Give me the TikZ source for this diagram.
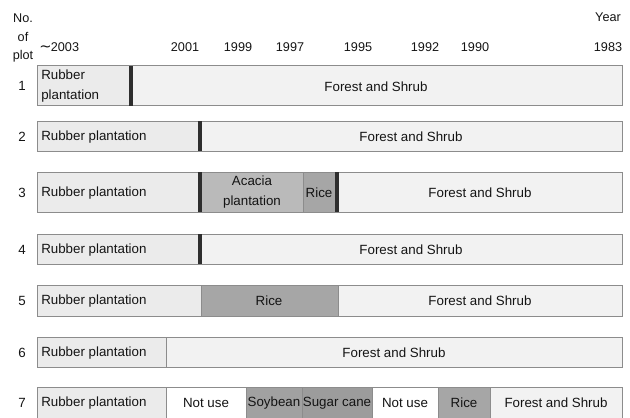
\documentclass[tikz,border=0pt]{standalone}
\usepackage{fontspec}
\setmainfont{Liberation Sans}
\newfontfamily\symfont{DejaVu Sans}
\usetikzlibrary{positioning}

\tikzset{
  bar/.style={draw=black!45, line width=0.75pt},
  rubber/.style={bar, fill=black!8},
  forest/.style={bar, fill=black!5},
  acacia/.style={bar, fill=black!27},
  crop/.style={bar, fill=black!35},
  idle/.style={bar, fill=white},
  sepbar/.style={fill=black!82},
  lbl/.style={inner sep=0pt, text=black!92, font=\fontsize{10}{15.5}\selectfont, align=center},
  yr/.style={inner sep=0pt, text=black!92, font=\fontsize{9.5}{11}\selectfont}
}

\begin{document}
\begin{tikzpicture}[x=0.75pt, y=-0.75pt]
    \useasboundingbox (0,0) rectangle (630,417);

    % headings
    \node[lbl, font=\fontsize{9.5}{14}\selectfont] (plothead) at (23,38) {No.\\of\\plot};
    \node[yr] (yearhead) at (608,17) {Year};
    \node[yr, anchor=west] (y2003) at (39,47) {{\symfont\fontsize{11}{11}\selectfont ∼}\kern-0.5pt2003};
    \foreach \yr/\x in {2001/185,1999/238,1997/290,1995/358,1992/425,1990/475,1983/608}
        \node[yr] (y\yr) at (\x,47) {\yr};

    % plot numbers
    \foreach \n/\y in {1/86,2/137,3/193,4/250,5/301,6/353,7/403}
        \node[lbl] (n\n) at (22,\y) {\n};

    % plot 1
    \draw[rubber] (37,66) rectangle (131,106);
    \draw[forest] (131,66) rectangle (622,106);
    \fill[sepbar] (129,66) rectangle (133,106);
    \node[lbl, anchor=west, align=left] (p1r) at (41,86) {Rubber\\plantation};
    \node[lbl] (p1f) at (376,87) {Forest and Shrub};

    % plot 2
    \draw[rubber] (37,121) rectangle (200,151);
    \draw[forest] (200,121) rectangle (622,151);
    \fill[sepbar] (198,121) rectangle (202,151);
    \node[lbl, anchor=west] (p2r) at (41,137) {Rubber plantation};
    \node[lbl] (p2f) at (411,137) {Forest and Shrub};

    % plot 3
    \draw[rubber] (37,172) rectangle (200,212);
    \draw[acacia] (200,172) rectangle (303,212);
    \draw[crop] (303,172) rectangle (337,212);
    \draw[forest] (337,172) rectangle (622,212);
    \fill[sepbar] (198,172) rectangle (202,212);
    \fill[sepbar] (335,172) rectangle (339,212);
    \node[lbl, anchor=west] (p3r) at (41,193) {Rubber plantation};
    \node[lbl] (p3a) at (252,192) {Acacia\\plantation};
    \node[lbl] (p3c) at (319,193) {Rice};
    \node[lbl] (p3f) at (480,193) {Forest and Shrub};

    % plot 4
    \draw[rubber] (37,234) rectangle (200,264);
    \draw[forest] (200,234) rectangle (622,264);
    \fill[sepbar] (198,234) rectangle (202,264);
    \node[lbl, anchor=west] (p4r) at (41,250) {Rubber plantation};
    \node[lbl] (p4f) at (411,250) {Forest and Shrub};

    % plot 5
    \draw[rubber] (37,285) rectangle (201,316);
    \draw[crop] (201,285) rectangle (338,316);
    \draw[forest] (338,285) rectangle (622,316);
    \node[lbl, anchor=west] (p5r) at (41,301) {Rubber plantation};
    \node[lbl] (p5c) at (269,301) {Rice};
    \node[lbl] (p5f) at (480,301) {Forest and Shrub};

    % plot 6
    \draw[rubber] (37,337) rectangle (166,367);
    \draw[forest] (166,337) rectangle (622,367);
    \node[lbl, anchor=west] (p6r) at (41,353) {Rubber plantation};
    \node[lbl] (p6f) at (394,353) {Forest and Shrub};

    % plot 7
    \draw[rubber] (37,387) rectangle (166,419);
    \draw[idle] (166,387) rectangle (246,419);
    \draw[crop, fill=black!37] (246,387) rectangle (302,419);
    \draw[crop, fill=black!39] (302,387) rectangle (372,419);
    \draw[idle] (372,387) rectangle (438,419);
    \draw[crop] (438,387) rectangle (490,419);
    \draw[forest] (490,387) rectangle (622,419);
    \node[lbl, anchor=west] (p7r) at (41,403) {Rubber plantation};
    \node[lbl] (p7u) at (206,403) {Not use};
    \node[lbl] (p7s) at (274,403) {Soybean};
    \node[lbl] (p7g) at (337,403) {Sugar cane};
    \node[lbl] (p7v) at (405,403) {Not use};
    \node[lbl] (p7c) at (464,403) {Rice};
    \node[lbl] (p7f) at (556,403) {Forest and Shrub};
\end{tikzpicture}
\end{document}
